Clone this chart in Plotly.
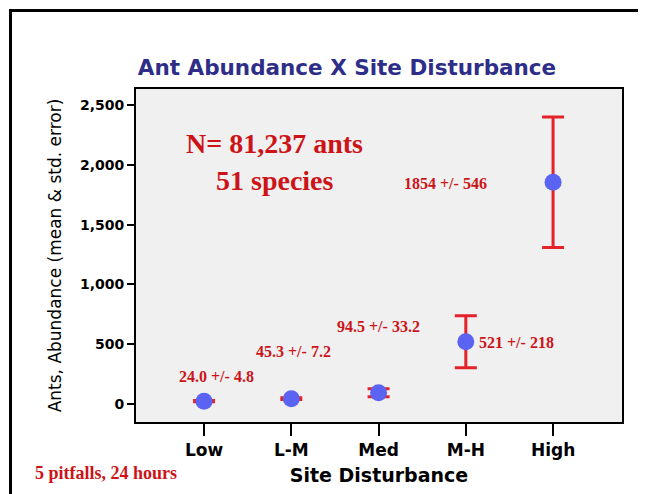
import plotly.graph_objects as go

# ---- data ----
categories = ["Low", "L-M", "Med", "M-H", "High"]
means = [24.0, 45.3, 94.5, 521, 1854]
std_errors = [4.8, 7.2, 33.2, 218, 546]
mean_labels = ["24.0", "45.3", "94.5", "521", "1854"]
se_labels = ["4.8", "7.2", "33.2", "218", "546"]
y_tickvals = [0, 500, 1000, 1500, 2000, 2500]

# label placement (pixel offsets from each point)
label_xshift = [12, 2, 0, 11, -108]
label_yshift = [25, 47, 66, -1, -1]
label_xanchor = ["center", "center", "center", "left", "center"]

RED_TEXT = "#cc1418"
RED_BAR = "#e4222a"
BLUE = "#5a63f2"
SANS_B = "DejaVu Sans"
SERIF = "Liberation Serif"

# page has an 8px body margin, so the figure is 8px smaller than the window
W, H = 638, 486

fig = go.Figure()
fig.add_trace(go.Scatter(
    x=categories, y=means, mode="markers",
    marker=dict(color=BLUE, size=17, line=dict(width=0)),
    error_y=dict(type="data", array=std_errors, visible=True,
                 color=RED_BAR, thickness=3, width=11),
    showlegend=False, hoverinfo="x+y",
))

annotations = []
for i, c in enumerate(categories):
    annotations.append(dict(
        x=c, y=means[i], xref="x", yref="y",
        text=f"<b>{mean_labels[i]} +/- {se_labels[i]}</b>",
        showarrow=False, xanchor=label_xanchor[i], yanchor="middle",
        xshift=label_xshift[i], yshift=label_yshift[i],
        font=dict(family=SERIF, size=16, color=RED_TEXT),
    ))

annotations += [
    dict(x=0.285, y=0.8375, xref="paper", yref="paper",
         text="<b>N= 81,237 ants</b>", showarrow=False,
         xanchor="center", yanchor="middle",
         font=dict(family=SERIF, size=28, color=RED_TEXT)),
    dict(x=0.287, y=0.7257, xref="paper", yref="paper",
         text="<b>51 species</b>", showarrow=False,
         xanchor="center", yanchor="middle",
         font=dict(family=SERIF, size=28, color=RED_TEXT)),
    dict(x=-0.212, y=-0.153, xref="paper", yref="paper",
         text="<b>5 pitfalls, 24 hours</b>", showarrow=False,
         xanchor="left", yanchor="middle",
         font=dict(family=SERIF, size=18, color=RED_TEXT)),
]

fig.update_layout(
    width=W, height=H,
    margin=dict(l=128, r=24, t=81, b=72),
    paper_bgcolor="white",
    plot_bgcolor="#f0f0f0",
    title=dict(text="<b>Ant Abundance X Site Disturbance</b>",
               x=339 / W, y=1 - 59 / H, xanchor="center", yanchor="middle",
               xref="container", yref="container",
               font=dict(family=SANS_B, size=21.5, color="#2e2e88")),
    annotations=annotations,
    shapes=[dict(type="rect", xref="paper", yref="paper",
                 x0=-0.2582, x1=1.3, y0=-0.6, y1=1.2357,
                 line=dict(color="black", width=3), fillcolor="rgba(0,0,0,0)",
                 layer="above")],
    xaxis=dict(
        range=[-0.78, 4.79],
        showgrid=False, zeroline=False,
        showline=True, linecolor="black", linewidth=2, mirror=True,
        ticks="outside", ticklen=12, tickwidth=2, tickcolor="black",
        tickfont=dict(family=SANS_B, size=17, color="black", weight="bold"),
        title=dict(text="<b>Site Disturbance</b>", standoff=9,
                   font=dict(family=SANS_B, size=19, color="black")),
    ),
    yaxis=dict(
        range=[-150, 2634],
        tickvals=y_tickvals, tickformat=",",
        showgrid=False, zeroline=False,
        showline=True, linecolor="black", linewidth=2, mirror=True,
        ticks="outside", ticklen=7, tickwidth=2, tickcolor="black",
        tickfont=dict(family=SANS_B, size=14, color="black", weight="bold"),
        title=dict(text="Ants, Abundance (mean & std. error)", standoff=14,
                   font=dict(family=SANS_B, size=17, color="black")),
    ),
)

fig.write_html("out.html")
